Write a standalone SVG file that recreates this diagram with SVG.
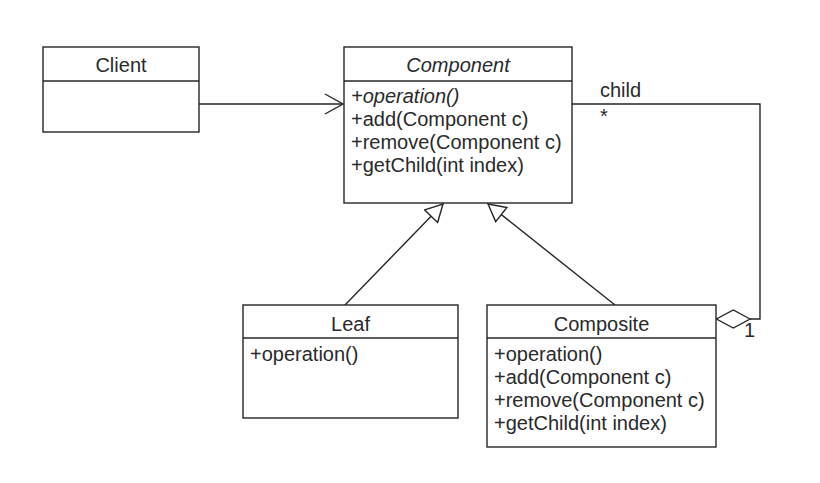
<svg xmlns="http://www.w3.org/2000/svg" width="820" height="483" viewBox="0 0 820 483">
<style>
.box{fill:#fff;stroke:#262626;stroke-width:1.4}
.sep{stroke:#262626;stroke-width:1.4}
.t{font-family:"Liberation Sans",Arial,sans-serif;font-size:20px;fill:#2a2a2a}
.c{text-anchor:middle}
.i{font-style:italic}
.ln{fill:none;stroke:#262626;stroke-width:1.4}
</style>
<defs>
<marker id="open" markerUnits="userSpaceOnUse" markerWidth="22" markerHeight="24" refX="19" refY="11" orient="auto">
<path d="M1,1 L19,11 L1,21" fill="none" stroke="#262626" stroke-width="1.4"/>
</marker>
<marker id="tri" markerUnits="userSpaceOnUse" markerWidth="22" markerHeight="22" refX="19" refY="10" orient="auto">
<path d="M2,1 L19,10 L2,19 Z" fill="#fff" stroke="#262626" stroke-width="1.4"/>
</marker>
</defs>
<g id="connectors">
<line class="ln" x1="199" y1="104" x2="343" y2="104" marker-end="url(#open)"/>
<line class="ln" x1="345" y1="305" x2="443" y2="204" marker-end="url(#tri)"/>
<line class="ln" x1="615" y1="305" x2="488" y2="204" marker-end="url(#tri)"/>
<polyline class="ln" points="572,104 760,104 760,319 750,319"/>
<path d="M750,319 L733.3,310 L716.5,319 L733.3,328 Z" fill="#fff" stroke="#262626" stroke-width="1.4"/>
<text class="t" x="600" y="97">child</text>
<text class="t" x="600" y="123">*</text>
<text class="t" x="744" y="337">1</text>
</g>
<g id="client">
<rect class="box" x="43" y="47" width="156" height="85"/>
<line class="sep" x1="43" y1="81" x2="199" y2="81"/>
<text class="t c" x="121" y="72">Client</text>
</g>
<g id="component">
<rect class="box" x="344" y="47" width="228" height="156"/>
<line class="sep" x1="344" y1="81" x2="572" y2="81"/>
<text class="t c i" x="458" y="72">Component</text>
<text class="t i" x="351" y="103">+operation()</text>
<text class="t" x="351" y="126">+add(Component c)</text>
<text class="t" x="351" y="149">+remove(Component c)</text>
<text class="t" x="351" y="172">+getChild(int index)</text>
</g>
<g id="leaf">
<rect class="box" x="243" y="305" width="215" height="113"/>
<line class="sep" x1="243" y1="338" x2="458" y2="338"/>
<text class="t c" x="350.5" y="331">Leaf</text>
<text class="t" x="250" y="361">+operation()</text>
</g>
<g id="composite">
<rect class="box" x="487" y="305" width="229" height="142"/>
<line class="sep" x1="487" y1="338" x2="716" y2="338"/>
<text class="t c" x="601.5" y="331">Composite</text>
<text class="t" x="494" y="361">+operation()</text>
<text class="t" x="494" y="384">+add(Component c)</text>
<text class="t" x="494" y="407">+remove(Component c)</text>
<text class="t" x="494" y="430">+getChild(int index)</text>
</g>
</svg>
